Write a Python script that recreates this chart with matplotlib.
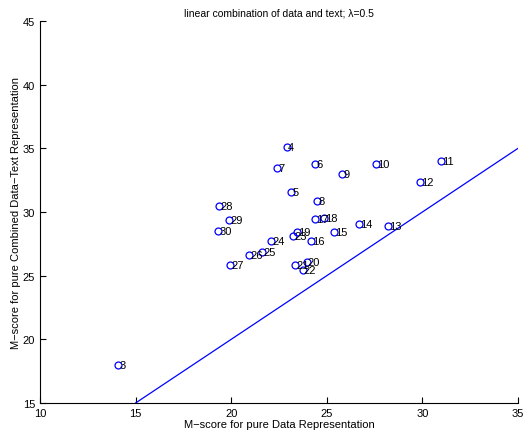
import matplotlib
matplotlib.use("Agg")
import matplotlib.pyplot as plt

plt.rcParams['font.family'] = ['Liberation Sans', 'DejaVu Sans']

# point labels and scores
labels = [3, 4, 5, 6, 7, 8, 9, 10, 11, 12, 13, 14, 15, 16, 17, 18,
          19, 20, 21, 22, 23, 24, 25, 26, 27, 28, 29, 30]
data_score = [14.09, 22.91, 23.12, 24.38, 22.39, 24.48, 25.82, 27.55, 30.95, 29.86,
              28.21, 26.69, 25.37, 24.15, 24.38, 24.85, 23.43, 23.94, 23.33, 23.73,
              23.23, 22.06, 21.62, 20.94, 19.93, 19.36, 19.88, 19.32]
combined_score = [17.98, 35.11, 31.60, 33.77, 33.46, 30.87, 32.97, 33.75, 33.99, 32.34,
                  28.93, 29.04, 28.41, 27.75, 29.45, 29.51, 28.43, 26.05, 25.84, 25.47,
                  28.12, 27.75, 26.89, 26.65, 25.86, 30.48, 29.40, 28.53]
diag = [15, 35]

fig = plt.figure(figsize=(5.30, 4.39), dpi=100)
ax = fig.add_axes([40 / 530, 35 / 439, 478 / 530, 382 / 439])

ax.plot(data_score, combined_score, 'o', markerfacecolor='none',
        markeredgecolor='blue', markersize=5, markeredgewidth=0.9)
for lab, x, y in zip(labels, data_score, combined_score):
    ax.annotate(str(lab), (x, y), xytext=(1, 0), textcoords='offset points',
                fontsize=8, ha='left', va='center', color='black')

ax.plot(diag, diag, color='blue', linewidth=0.9)

ax.set_xlim(10, 35)
ax.set_ylim(15, 45)
ax.set_xticks([10, 15, 20, 25, 30, 35])
ax.set_yticks([15, 20, 25, 30, 35, 40, 45])
ax.tick_params(direction='in', labelsize=8, length=4, width=0.8)
ax.spines['top'].set_visible(False)
ax.spines['right'].set_visible(False)
ax.set_title('linear combination of data and text; λ=0.5', fontsize=7.5, pad=4)
ax.set_xlabel('M\u2212score for pure Data Representation', fontsize=8, labelpad=1)
ax.set_ylabel('M\u2212score for pure Combined Data\u2212Text Representation', fontsize=8, labelpad=1)

fig.savefig('out.png', dpi=100)
